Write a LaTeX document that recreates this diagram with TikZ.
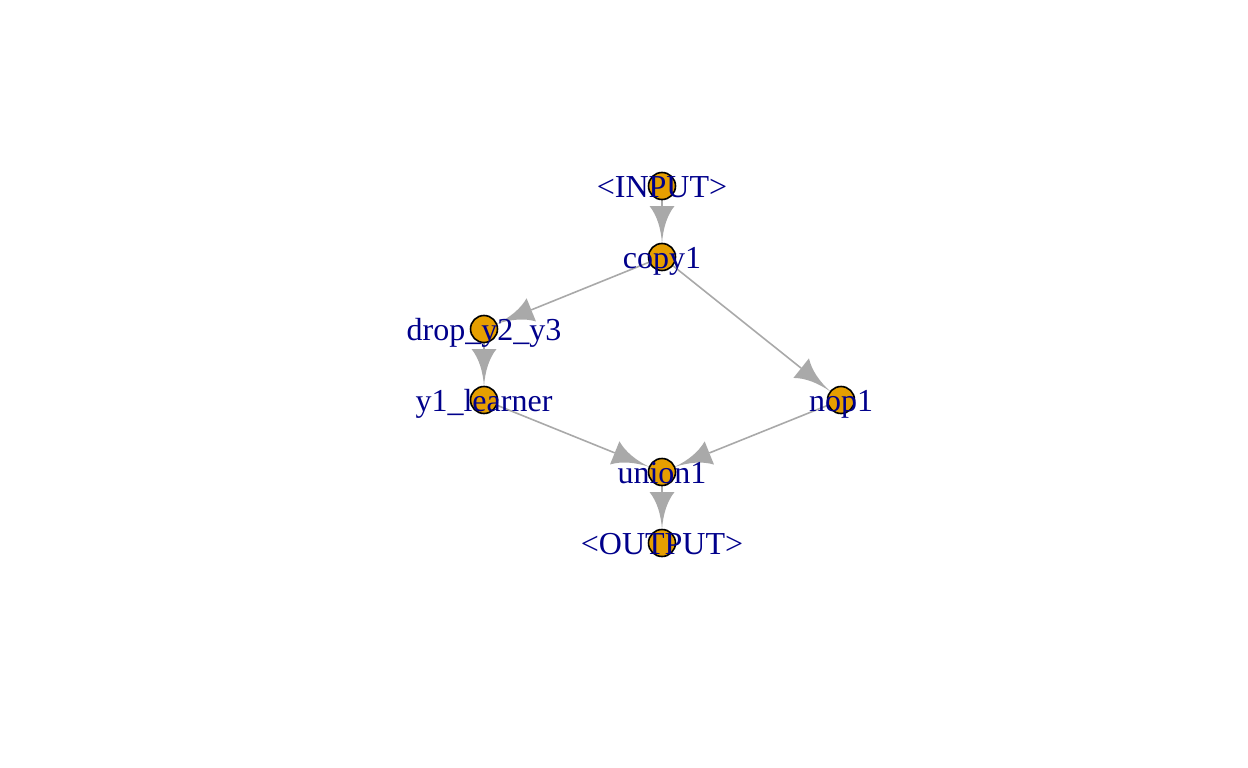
\documentclass[tikz,border=0pt]{standalone}
\usepackage{fontspec}
\setmainfont{Liberation Serif}
\usetikzlibrary{calc}
\definecolor{edgecol}{HTML}{A9A9A9}
\definecolor{nodefill}{HTML}{E69F00}
\definecolor{labcol}{HTML}{00008B}
\tikzset{
  vert/.style={circle, draw=black, line width=1.6pt, fill=nodefill, minimum size=27pt, inner sep=0pt},
  lab/.style={text=labcol, font=\fontsize{32}{38}\selectfont, inner sep=0pt, text height=0.68em, text depth=0pt, yshift=-8pt},
  edge/.style={draw=edgecol, line width=1.6pt}
}
\newcommand\gedge[2]{%
  \coordinate (T) at ($(#2.center)!13.5pt!(#1.center)$);
  \coordinate (B) at ($(#2.center)!51pt!(#1.center)$);
  \draw[edge] (#1.center) -- (B);
  \fill[edgecol] ($(B)!12.5pt!90:(T)$) -- ($(B)!12.5pt!-90:(T)$)
     .. controls ($($(B)!0.25!(T)$)!5pt!-90:(T)$) and ($($(B)!0.6!(T)$)!1pt!-90:(T)$) .. (T)
     .. controls ($($(B)!0.6!(T)$)!1pt!90:(T)$) and ($($(B)!0.25!(T)$)!5pt!90:(T)$) .. cycle;
}
\begin{document}
\begin{tikzpicture}[x=1pt,y=-1pt]
\useasboundingbox (0,0) rectangle (1248,768);
\coordinate (pIN) at (662,186);
\coordinate (pCP) at (662,257);
\coordinate (pDR) at (484,329);
\coordinate (pY1) at (484,400);
\coordinate (pNO) at (841,400);
\coordinate (pUN) at (662,472);
\coordinate (pOU) at (662,543);
\gedge{pIN}{pCP}
\gedge{pCP}{pDR}
\gedge{pCP}{pNO}
\gedge{pDR}{pY1}
\gedge{pY1}{pUN}
\gedge{pNO}{pUN}
\gedge{pUN}{pOU}
\node[vert] (cIN) at (pIN) {};
\node[vert] (cCP) at (pCP) {};
\node[vert] (cDR) at (pDR) {};
\node[vert] (cY1) at (pY1) {};
\node[vert] (cNO) at (pNO) {};
\node[vert] (cUN) at (pUN) {};
\node[vert] (cOU) at (pOU) {};
\node[lab] (lIN) at (pIN) {<INPUT>};
\node[lab] (lCP) at (pCP) {copy1};
\node[lab] (lDR) at (pDR) {drop\_y2\_y3};
\node[lab] (lY1) at (pY1) {y1\_learner};
\node[lab] (lNO) at (pNO) {nop1};
\node[lab] (lUN) at (pUN) {union1};
\node[lab] (lOU) at (pOU) {<OUTPUT>};
\end{tikzpicture}
\end{document}
